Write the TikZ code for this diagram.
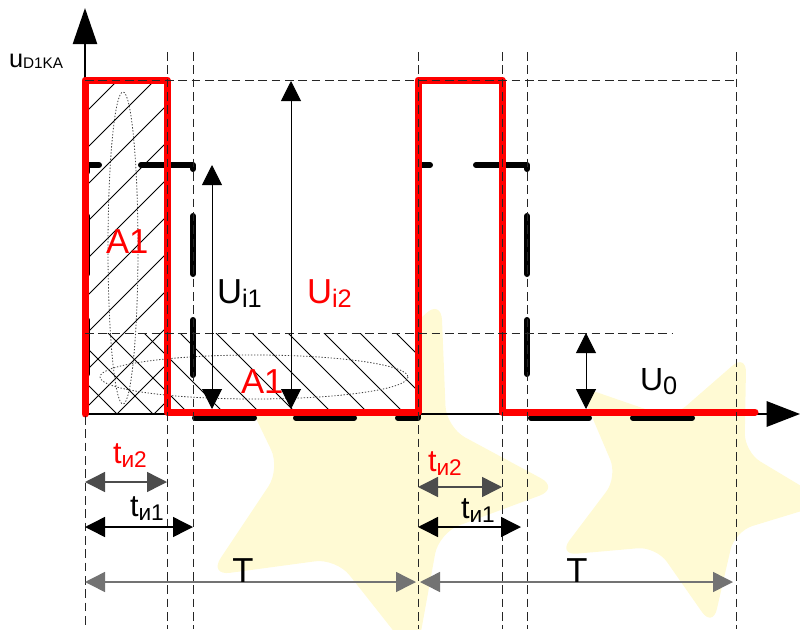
\documentclass[tikz,border=0pt]{standalone}
\usepackage{fontspec}
\setmainfont{Liberation Sans}
\usetikzlibrary{arrows.meta}
\definecolor{sigred}{RGB}{255,0,0}
\definecolor{starcol}{RGB}{255,250,212}
\begin{document}
\begin{tikzpicture}[x=0.75pt,y=-0.75pt,
  gridline/.style={draw=black!85, line width=0.75pt, dash pattern=on 6.5pt off 3.5pt},
  redsig/.style={draw=sigred, line width=5.25pt, line join=round, line cap=round},
  blkdash/.style={draw=black, line width=4.5pt, line join=round, line cap=round},
  hatchline/.style={draw=black, line width=0.7pt},
  ellline/.style={draw=black!75, line width=0.6pt, dash pattern=on 1pt off 1.3pt},
  valarrow/.style={draw=black, line width=0.75pt, arrows={Triangle[length=15pt,width=15pt]-Triangle[length=15pt,width=15pt]}},
  dimarrow/.style={line width=1.1pt, arrows={Triangle[length=15pt,width=15pt]-Triangle[length=15pt,width=15pt]}},
  axisline/.style={draw=black, line width=1.8pt},
  lbl/.style={inner sep=0pt, outer sep=0pt, anchor=base west},
]
\useasboundingbox (0,0) rectangle (800,629);
% background stars (watermark)
\fill[starcol, rounded corners=16pt, shift={(370,475)}]
  (-68:190) -- (-32:90) -- (4:190) -- (40:90) -- (76:190) -- (112:90) -- (148:190) -- (184:90) -- (220:190) -- (256:90) -- cycle;
\fill[starcol, rounded corners=14pt, shift={(685,485)}]
  (-65:145) -- (-29:68) -- (7:145) -- (43:68) -- (79:145) -- (115:68) -- (151:145) -- (187:68) -- (223:145) -- (259:68) -- cycle;
\fill[white] (85,80) rectangle (418,412);

% hatching
\begin{scope}
  \clip (85,80) rectangle (167,412);
  \foreach \k in {-2,...,11} {
    \pgfmathsetmacro\cc{198+37*\k}
    \draw[hatchline] (60,{\cc-60}) -- (220,{\cc-220});
  }
\end{scope}
\begin{scope}
  \clip (85,333) rectangle (418,412);
  \foreach \k in {-8,...,5} {
    \pgfmathsetmacro\cc{-81+36*\k}
    \draw[hatchline] (40,{40-\cc}) -- (460,{460-\cc});
  }
\end{scope}

% dotted ellipses
\draw[ellline] (123,248) ellipse [x radius=15, y radius=156];
\draw[ellline] (254,377) ellipse [x radius=154, y radius=22];

% axes
\coordinate (o) at (85,414);
\coordinate (ytip) at (85,8);
\coordinate (xtip) at (800,414);
\draw[axisline, -{Triangle[length=27pt,width=18pt]}] (o) -- (ytip);
\draw[draw=black, line width=1.5pt, -{Triangle[length=25pt,width=19pt]}] (o) -- (xtip);

% black dashed signal (drawn dash by dash)
\draw[blkdash] (87,172) -- (87,165) -- (99,165);
\draw[blkdash] (87,216) -- (87,274);
\draw[blkdash] (87,320) -- (87,374);
\draw[blkdash] (141,165) -- (193,165) -- (193,169);
\draw[blkdash] (193,216) -- (193,274);
\draw[blkdash] (193,320) -- (193,375);
\draw[blkdash] (195,418) -- (254,418);
\draw[blkdash] (296,418) -- (354,418);
\draw[blkdash] (398,418) -- (418,418) -- (418,400);
\draw[blkdash] (418,172) -- (418,165) -- (430,165);
\draw[blkdash] (418,216) -- (418,274);
\draw[blkdash] (418,320) -- (418,374);
\draw[blkdash] (476,165) -- (527,165) -- (527,169);
\draw[blkdash] (527,216) -- (527,274);
\draw[blkdash] (527,320) -- (527,374);
\draw[blkdash] (531,418) -- (589,418);
\draw[blkdash] (633,418) -- (692,418);

% red signal
\draw[redsig] (85,414) -- (85,80) -- (167,80) -- (167,412) -- (418,412) -- (418,80) -- (502,80) -- (502,412) -- (755,412);

% thin dashed reference lines
\foreach \xx in {167,193,418,502,527,736} {
  \draw[gridline] (\xx,52) -- (\xx,629);
}
\draw[gridline] (85,416) -- (85,629);
\draw[gridline] (85,80) -- (736,80);
\draw[gridline] (85,333) -- (673,333);

% value arrows
\coordinate (ui1t) at (212,165); \coordinate (ui1b) at (212,409);
\coordinate (ui2t) at (291,81);  \coordinate (ui2b) at (291,409);
\coordinate (u0t) at (586,333);  \coordinate (u0b) at (586,409);
\draw[valarrow] (ui1t) -- (ui1b);
\draw[valarrow] (ui2t) -- (ui2b);
\draw[valarrow] (u0t) -- (u0b);

% dimension arrows
\coordinate (a1l) at (85,482);  \coordinate (a1r) at (167,482);
\coordinate (b1l) at (85,527);  \coordinate (b1r) at (193,527);
\coordinate (c1l) at (85,582);  \coordinate (c1r) at (416,582);
\coordinate (a2l) at (418,487); \coordinate (a2r) at (502,487);
\coordinate (b2l) at (418,527); \coordinate (b2r) at (521,527);
\coordinate (c2l) at (420,582); \coordinate (c2r) at (733,582);
\draw[dimarrow, draw=black!70] (a1l) -- (a1r);
\draw[dimarrow, draw=black] (b1l) -- (b1r);
\draw[dimarrow, draw=black!55] (c1l) -- (c1r);
\draw[dimarrow, draw=black!70] (a2l) -- (a2r);
\draw[dimarrow, draw=black] (b2l) -- (b2r);
\draw[dimarrow, draw=black!55] (c2l) -- (c2r);

% labels
\node[lbl] (ylab) at (9,67) {\fontsize{19}{19}\selectfont u\raisebox{-1pt}{\fontsize{11.5}{12}\selectfont D1KA}};
\node[lbl, text=sigred] (a1a) at (106,253) {\fontsize{26}{26}\selectfont A1};
\node[lbl, text=sigred] (a1b) at (241,393) {\fontsize{26}{26}\selectfont A1};
\node[lbl] (lui1) at (217,303) {\fontsize{26}{26}\selectfont U\raisebox{-3pt}{\fontsize{19}{19}\selectfont i1}};
\node[lbl, text=sigred] (lui2) at (307,303) {\fontsize{26}{26}\selectfont U\raisebox{-3pt}{\fontsize{19}{19}\selectfont i2}};
\node[lbl] (lu0) at (640,390) {\fontsize{24}{24}\selectfont U\raisebox{-3pt}{\fontsize{19}{19}\selectfont 0}};
\node[lbl, text=sigred] (lti2a) at (113,463) {\fontsize{23}{23}\selectfont t\raisebox{-3.5pt}{\fontsize{17}{17}\selectfont и2}};
\node[lbl] (lti1a) at (130,516) {\fontsize{23}{23}\selectfont t\raisebox{-3.5pt}{\fontsize{17}{17}\selectfont и1}};
\node[lbl, text=sigred] (lti2b) at (428,471) {\fontsize{23}{23}\selectfont t\raisebox{-3.5pt}{\fontsize{17}{17}\selectfont и2}};
\node[lbl] (lti1b) at (461,518) {\fontsize{23}{23}\selectfont t\raisebox{-3.5pt}{\fontsize{17}{17}\selectfont и1}};
\node[inner sep=0pt, anchor=base] (lT1) at (243,582) {\fontsize{26}{26}\selectfont T};
\node[inner sep=0pt, anchor=base] (lT2) at (577,582) {\fontsize{26}{26}\selectfont T};
\end{tikzpicture}
\end{document}
